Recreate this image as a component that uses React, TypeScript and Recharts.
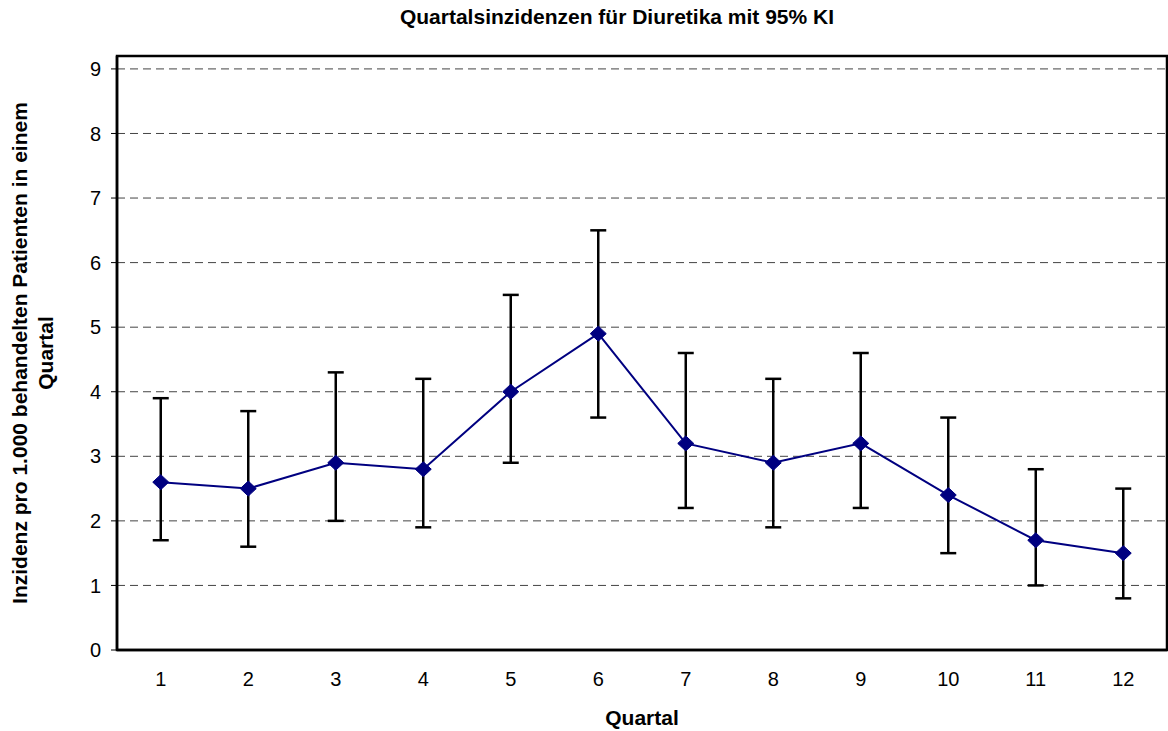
import React from 'react';
import { ComposedChart, Line, XAxis, YAxis, CartesianGrid, ErrorBar, Label, ReferenceArea } from 'recharts';

// Quarterly incidence of diuretics per 1,000 treated patients with 95% CI
const quarters = ['1', '2', '3', '4', '5', '6', '7', '8', '9', '10', '11', '12'];
const incidence = [2.6, 2.5, 2.9, 2.8, 4.0, 4.9, 3.2, 2.9, 3.2, 2.4, 1.7, 1.5];
const ciLower = [1.7, 1.6, 2.0, 1.9, 2.9, 3.6, 2.2, 1.9, 2.2, 1.5, 1.0, 0.8];
const ciUpper = [3.9, 3.7, 4.3, 4.2, 5.5, 6.5, 4.6, 4.2, 4.6, 3.6, 2.8, 2.5];
const yTicks = [0, 1, 2, 3, 4, 5, 6, 7, 8, 9];
const yMax = 9.2;

const data = quarters.map((q, i) => ({
  quartal: q,
  value: incidence[i],
  ci: [incidence[i] - ciLower[i], ciUpper[i] - incidence[i]],
}));

const FONT = '"Liberation Sans", Arial, Helvetica, sans-serif';
const NAVY = '#000080';

const Diamond = (props: any) => {
  const { cx, cy, index } = props;
  if (cx == null || cy == null) return null;
  const w = 8;
  const h = 7.5;
  return (
    <path
      key={`d-${index}`}
      d={`M${cx},${cy - h} L${cx + w},${cy} L${cx},${cy + h} L${cx - w},${cy} Z`}
      fill={NAVY}
      stroke={NAVY}
      strokeWidth={1}
    />
  );
};

const YTitle = (props: any) => {
  const vb = props.viewBox || {};
  const cy = vb.y + vb.height / 2;
  const x1 = 19;
  const x2 = 45;
  return (
    <g style={{ fontFamily: FONT, fontWeight: 'bold', fontSize: 21 }} fill="#000">
      <text x={x1} y={cy} transform={`rotate(-90 ${x1} ${cy})`} textAnchor="middle" dominantBaseline="central">
        Inzidenz pro 1.000 behandelten Patienten in einem
      </text>
      <text x={x2} y={cy} transform={`rotate(-90 ${x2} ${cy})`} textAnchor="middle" dominantBaseline="central">
        Quartal
      </text>
    </g>
  );
};

export default function App() {
  return (
    <div style={{ position: 'absolute', left: 0, top: 0, width: 1168, height: 731, background: '#fff', fontFamily: FONT }}>
      <div
        style={{
          position: 'absolute',
          top: 5,
          left: 66,
          width: 1102,
          textAlign: 'center',
          fontWeight: 'bold',
          fontSize: 21,
          color: '#000',
          fontFamily: FONT,
        }}
      >
        Quartalsinzidenzen für Diuretika mit 95% KI
      </div>
      <ComposedChart width={1168} height={731} data={data} margin={{ top: 56, right: 1, bottom: 0, left: 0 }}>
        <CartesianGrid vertical={false} horizontalValues={yTicks} strokeDasharray="8 5" stroke="#444" strokeWidth={1} />
        <XAxis
          dataKey="quartal"
          scale="band"
          height={81}
          tickLine={false}
          tickMargin={16}
          axisLine={{ stroke: '#000', strokeWidth: 2.5 }}
          tick={{ fill: '#000', fontSize: 20, fontFamily: FONT }}
          interval={0}
        >
          <Label
            value="Quartal"
            position="insideBottom"
            offset={6}
            style={{ fontFamily: FONT, fontWeight: 'bold', fontSize: 21, fill: '#000' }}
          />
        </XAxis>
        <YAxis
          width={117}
          domain={[0, yMax]}
          ticks={yTicks}
          allowDataOverflow
          tickSize={6}
          tickMargin={10}
          tickLine={{ stroke: '#000', strokeWidth: 1 }}
          axisLine={{ stroke: '#000', strokeWidth: 2.5 }}
          tick={{ fill: '#000', fontSize: 20, fontFamily: FONT }}
        >
          <Label content={<YTitle />} />
        </YAxis>
        {/* plot frame */}
        <ReferenceArea y1={0} y2={yMax} fill="none" stroke="#000" strokeWidth={2.5} ifOverflow="visible" />
        <Line
          type="linear"
          dataKey="value"
          stroke={NAVY}
          strokeWidth={2}
          dot={<Diamond />}
          activeDot={false}
          isAnimationActive={false}
        >
          <ErrorBar dataKey="ci" direction="y" width={8} stroke="#000" strokeWidth={2.5} />
        </Line>
      </ComposedChart>
    </div>
  );
}
